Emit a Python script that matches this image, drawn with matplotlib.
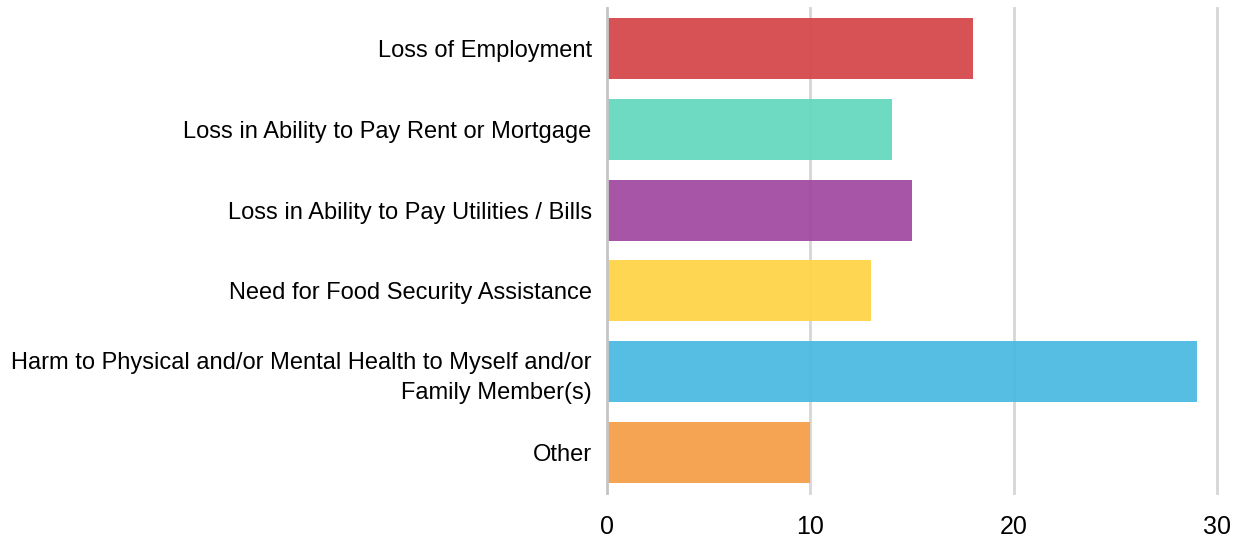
import matplotlib
matplotlib.use("Agg")
import matplotlib.pyplot as plt

categories = ["Loss of Employment",
              "Loss in Ability to Pay Rent or Mortgage",
              "Loss in Ability to Pay Utilities / Bills",
              "Need for Food Security Assistance",
              "Harm to Physical and/or Mental Health to Myself and/or\nFamily Member(s)",
              "Other"]
values = [18, 14, 15, 13, 29, 10]
bar_colors = ["#d4474a", "#66d8be", "#a24aa1", "#fed447", "#4bbae1", "#f59e49"]
x_ticks = [0, 10, 20, 30]

plt.rcParams['font.family'] = ['Liberation Sans', 'DejaVu Sans']

fig = plt.figure(figsize=(12.43, 5.46), dpi=100)
ax = fig.add_axes([607 / 1243, 1 - 493 / 546, (1217 - 607) / 1243, (493 - 8) / 546])

ypos = list(range(len(categories)))
ax.barh(ypos, values, height=0.755, color=bar_colors, alpha=0.94, zorder=2)

ax.set_xlim(0, 30)
ax.set_ylim(len(categories) - 0.5, -0.5)
ax.set_xticks(x_ticks)
ax.set_xticklabels([str(t) for t in x_ticks], fontsize=18)
ax.set_yticks(ypos)
ax.set_yticklabels(categories, fontsize=17, linespacing=1.45)
ax.tick_params(axis='both', length=0)
ax.tick_params(axis='x', pad=16)
ax.tick_params(axis='y', pad=11)

for t in x_ticks[1:]:
    ax.axvline(t, color='#d6d6d6', lw=2, zorder=1, clip_on=False)
ax.axvline(0, color='#c4c4c4', lw=2, zorder=3, clip_on=False)

for s in ax.spines.values():
    s.set_visible(False)

fig.savefig("out.png", dpi=100)
